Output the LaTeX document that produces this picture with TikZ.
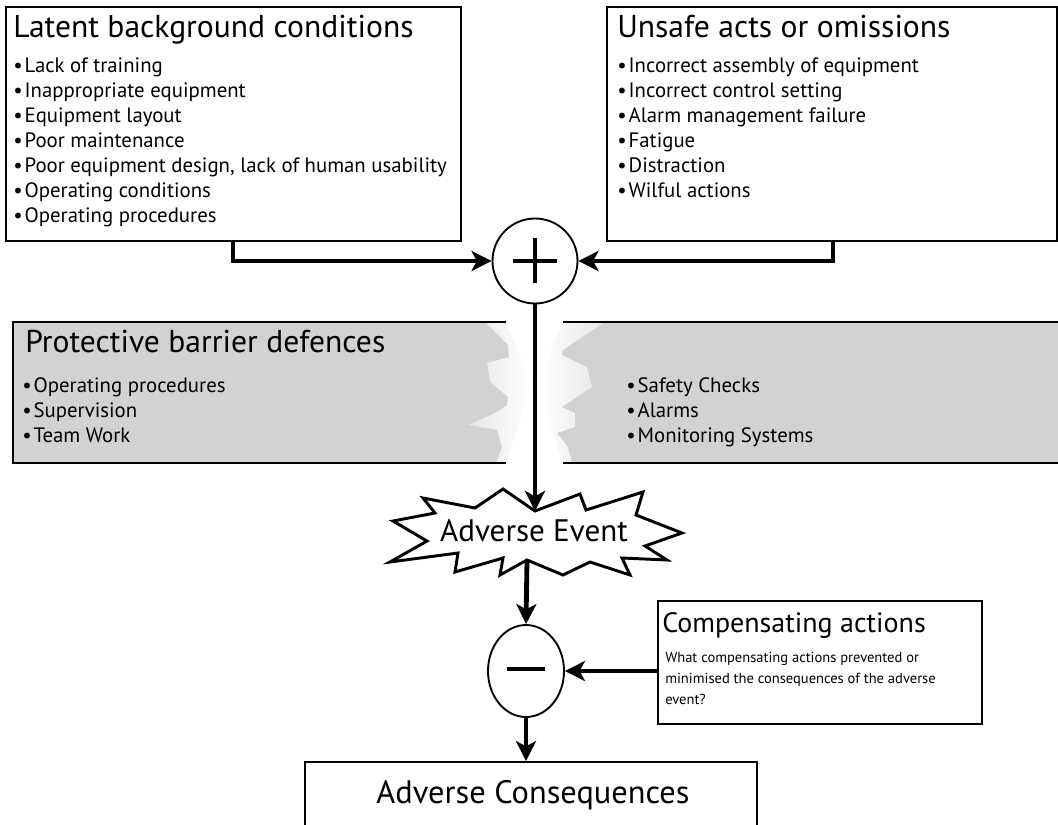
\documentclass[tikz,border=0pt]{standalone}
\usepackage{fontspec}
\setmainfont{PT Sans}
\usetikzlibrary{arrows.meta,shapes.geometric,fit}
\definecolor{bandgray}{RGB}{209,210,212}
\begin{document}
\begin{tikzpicture}[x=0.75pt,y=-0.75pt,
  box/.style={draw, line width=1.4pt, inner sep=0pt},
  conn/.style={line width=3.6pt, line join=miter, -{Stealth[length=15pt,width=15pt,inset=4pt]}},
  title/.style={anchor=base west, inner sep=0pt, font=\fontsize{23.7}{26}\selectfont},
  subtitle/.style={anchor=base west, inner sep=0pt, font=\fontsize{21}{24}\selectfont},
  item/.style={anchor=base west, inner sep=0pt, font=\fontsize{15.6}{18}\selectfont},
  note/.style={anchor=base west, inner sep=0pt, font=\fontsize{10.9}{13}\selectfont},
  bandedge/.style={line width=1.8pt},
  sign/.style={line width=3.4pt}]
\clip (0,0) rectangle (1058,825);
\fill[white] (0,0) rectangle (1058,825);

% ---------- top boxes ----------
\node[box, fit={(6,7) (461,241)}] (latent) {};
\node[title] (latentT) at (13,37) {Latent background conditions};
\foreach \t [count=\i] in {Lack of training, Inappropriate equipment, Equipment layout,
    Poor maintenance, {Poor equipment design, lack of human usability},
    Operating conditions, Operating procedures}
  \node[item] (latent\i) at (13,{47+25*\i}) {\textbullet\hspace{1.5pt}\t};

\node[box, fit={(607,7) (1057,241)}] (unsafe) {};
\node[title] (unsafeT) at (617,37) {Unsafe acts or omissions};
\foreach \t [count=\i] in {Incorrect assembly of equipment, Incorrect control setting,
    Alarm management failure, Fatigue, Distraction, Wilful actions}
  \node[item] (unsafe\i) at (617,{47+25*\i}) {\textbullet\hspace{1.5pt}\t};

% ---------- summing junction ----------
\node[circle, draw, line width=1.4pt, minimum size=63.75pt, inner sep=0pt] (plus) at (535,261) {};
\draw[sign] (plus.center) +(-22,0) -- +(22,0);
\draw[sign] (plus.center) +(0,-23) -- +(0,22);

% ---------- protective barrier band, broken in the middle ----------
\shade[left color=gray!22, right color=white]
  (460,322) -- (506,322) -- (531,385) -- (506,463) -- (460,463) -- cycle;
\fill[bandgray] (13,322) -- (485,322) -- (508,345) -- (509,357) -- (487,363)
  -- (490,382) -- (508,397) -- (507,405) -- (497,412) -- (468,425) -- (497,430)
  -- (502,447) -- (496,463) -- (13,463) -- cycle;
\shade[left color=white, right color=gray!22]
  (537,385) -- (563,322) -- (612,322) -- (612,463) -- (563,463) -- cycle;
\fill[bandgray] (605,322) -- (1058,322) -- (1058,463) -- (572,463) -- (568,447)
  -- (557,433) -- (575,427) -- (575,413) -- (562,407) -- (592,387) -- (587,367)
  -- (562,355) -- (563,350) -- cycle;
\draw[bandedge] (506,322) -- (13,322) -- (13,463) -- (506,463);
\draw[bandedge] (563,322) -- (1058,322);
\draw[bandedge] (563,463) -- (1058,463);

\node[title] (barrierT) at (25,352) {Protective barrier defences};
\foreach \t [count=\i] in {Operating procedures, Supervision, Team Work}
  \node[item] (barL\i) at (22,{367+25*\i}) {\textbullet\hspace{1.5pt}\t};
\foreach \t [count=\i] in {Safety Checks, Alarms, Monitoring Systems}
  \node[item] (barR\i) at (626,{367+25*\i}) {\textbullet\hspace{1.5pt}\t};

% ---------- adverse event burst ----------
\draw[line width=2.2pt, line join=miter, fill=white]
  (423,498) -- (475,508) -- (503,489) -- (535,511) -- (580,494) -- (586,510)
  -- (643,492) -- (636,515) -- (682,533) -- (645,546) -- (667,560) -- (622,558)
  -- (630,575) -- (590,562) -- (563,575) -- (527,560) -- (500,575) -- (503,558)
  -- (455,572) -- (458,553) -- (390,562) -- (427,541) -- (393,521) -- (435,513)
  -- cycle;
\node[anchor=base, inner sep=0pt, font=\fontsize{23.3}{26}\selectfont] (event) at (534,541) {Adverse Event};
\coordinate (evtop) at (535,511);
\coordinate (evbot) at (527,560);

% ---------- compensation ----------
\node[ellipse, draw, line width=1.4pt, minimum width=57pt, minimum height=69pt, inner sep=0pt] (minus) at (526,671) {};
\draw[sign] (minus.center) +(-19,-2) -- +(19,-2);

\node[box, fit={(658,601) (982,724)}] (comp) {};
\node[subtitle] (compT) at (662,632) {Compensating actions};
\node[note] (comp1) at (665,662) {What compensating actions prevented or};
\node[note] (comp2) at (665,683) {minimised the consequences of the adverse};
\node[note] (comp3) at (665,704) {event?};

\node[box, fit={(305,762) (757,840)}] (cons) {};
\node[anchor=base, inner sep=0pt, font=\fontsize{24.3}{27}\selectfont] (consT) at (533,803) {Adverse Consequences};

% ---------- connectors ----------
\coordinate (lstart) at (233,241);
\coordinate (rstart) at (833,241);
\draw[conn] (lstart) |- (plus.west);
\draw[conn] (rstart) |- (plus.east);
\draw[conn] (plus.south) -- (evtop);
\draw[conn] (evbot) -- (minus.north);
\draw[conn] (comp.west |- minus.east) -- (minus.east);
\draw[conn] (minus.south) -- (minus.south |- cons.north);
\end{tikzpicture}
\end{document}
